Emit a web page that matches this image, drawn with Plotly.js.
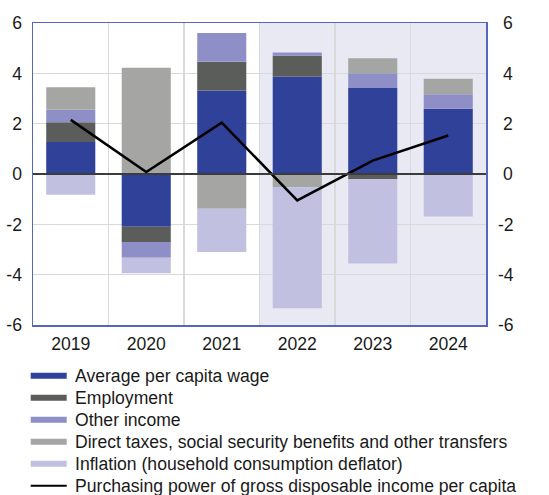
<!DOCTYPE html>
<html>
<head>
<meta charset="utf-8">
<script src="https://cdn.plot.ly/plotly-3.0.1.min.js"></script>
<style>html,body{margin:0;padding:0;background:#fff;}#chart{width:549px;height:495px;}</style>
</head>
<body>
<div id="chart"></div>
<script>
const years = ["2019", "2020", "2021", "2022", "2023", "2024"];
const wage = [1.27, -2.10, 3.32, 3.87, 3.42, 2.59];
const employment = [0.79, -0.60, 1.14, 0.83, -0.20, 0.0];
const otherIncome = [0.49, -0.63, 1.14, 0.13, 0.58, 0.58];
const directTaxes = [0.90, 4.22, -1.38, -0.53, 0.60, 0.61];
const inflation = [-0.82, -0.61, -1.72, -4.80, -3.36, -1.69];
const purchasingPower = [2.15, 0.08, 2.04, -1.05, 0.53, 1.53];
const yTicks = [-6, -4, -2, 0, 2, 4, 6];

const names = [
  "Average per capita wage",
  "Employment",
  "Other income",
  "Direct taxes, social security benefits and other transfers",
  "Inflation (household consumption deflator)",
  "Purchasing power of gross disposable income per capita"
];
const colors = ["#30419a", "#5b5d5a", "#8e8fc7", "#a5a6a4", "#c1c0e0", "#000000"];
const barSeries = [wage, employment, otherIncome, directTaxes, inflation];

const W = 549, H = 495;
const M = {l: 33, r: 63, t: 23, b: 170};
const pw = W - M.l - M.r, ph = H - M.t - M.b;
const px = x => (x - M.l) / pw;
const py = y => (H - M.b - y) / ph;

const traces = barSeries.map((vals, i) => ({
  type: "bar", x: years, y: vals, name: names[i],
  marker: {color: colors[i], line: {width: 0}},
  showlegend: false, hoverinfo: "skip"
}));
traces.push({
  type: "scatter", mode: "lines", x: years, y: purchasingPower,
  name: names[5], line: {color: "#000", width: 2.5},
  yaxis: "y2", showlegend: false, hoverinfo: "skip"
});

const FONT = "Liberation Sans, Arial, sans-serif";
const FS = 17.6;
const shapes = [{
  type: "rect", xref: "x", yref: "paper", x0: 2.5, x1: 5.5, y0: 0, y1: 1,
  fillcolor: "#e9e9f4", line: {width: 0}, layer: "below"
}];
const annotations = [];
const rowY = [375.7, 397.7, 419.7, 441.7, 463.7, 485.7];
names.forEach((n, i) => {
  const yc = rowY[i];
  if (i < 5) {
    shapes.push({type: "rect", xref: "paper", yref: "paper",
      x0: px(30.7), x1: px(66.7), y0: py(yc + 3), y1: py(yc - 3),
      fillcolor: colors[i], line: {width: 0}});
  } else {
    shapes.push({type: "line", xref: "paper", yref: "paper",
      x0: px(30.7), x1: px(66.7), y0: py(yc), y1: py(yc),
      line: {color: colors[i], width: 2}});
  }
  annotations.push({xref: "paper", yref: "paper", x: px(73), y: py(yc),
    xanchor: "left", yanchor: "middle", showarrow: false, text: n,
    font: {family: FONT, size: FS, color: "#1a1a1a"}});
});

const layout = {
  width: W, height: H,
  margin: M,
  paper_bgcolor: "#fff", plot_bgcolor: "rgba(0,0,0,0)",
  barmode: "relative", bargap: 0.35,
  font: {family: FONT, size: FS, color: "#1a1a1a"},
  xaxis: {
    type: "category", range: [-0.5, 5.5], tickson: "boundaries",
    showgrid: true, gridcolor: "#d9d9d9", gridwidth: 1.5,
    showline: true, mirror: true, linecolor: "#5566bb", linewidth: 1.5,
    ticks: "", ticklabelstandoff: 2, fixedrange: true
  },
  yaxis: {
    range: [-6, 6], tickvals: yTicks, ticktext: yTicks.map(String),
    showgrid: true, gridcolor: "#d9d9d9", gridwidth: 1.5,
    zeroline: true, zerolinecolor: "#3c3c3c", zerolinewidth: 1.5,
    zerolinelayer: "above traces",
    showline: true, mirror: true, linecolor: "#5566bb", linewidth: 1.5,
    ticks: "", ticklabelstandoff: 6, fixedrange: true
  },
  yaxis2: {
    overlaying: "y", side: "right", range: [-6, 6],
    tickvals: yTicks, ticktext: yTicks.map(v => (v < 0 ? "" : "\u2008") + String(v)),
    showgrid: false, zeroline: false, showline: false,
    ticks: "", ticklabelstandoff: 11, fixedrange: true
  },
  shapes: shapes, annotations: annotations, showlegend: false
};

Plotly.newPlot("chart", traces, layout, {staticPlot: true, displayModeBar: false});
</script>
</body>
</html>
